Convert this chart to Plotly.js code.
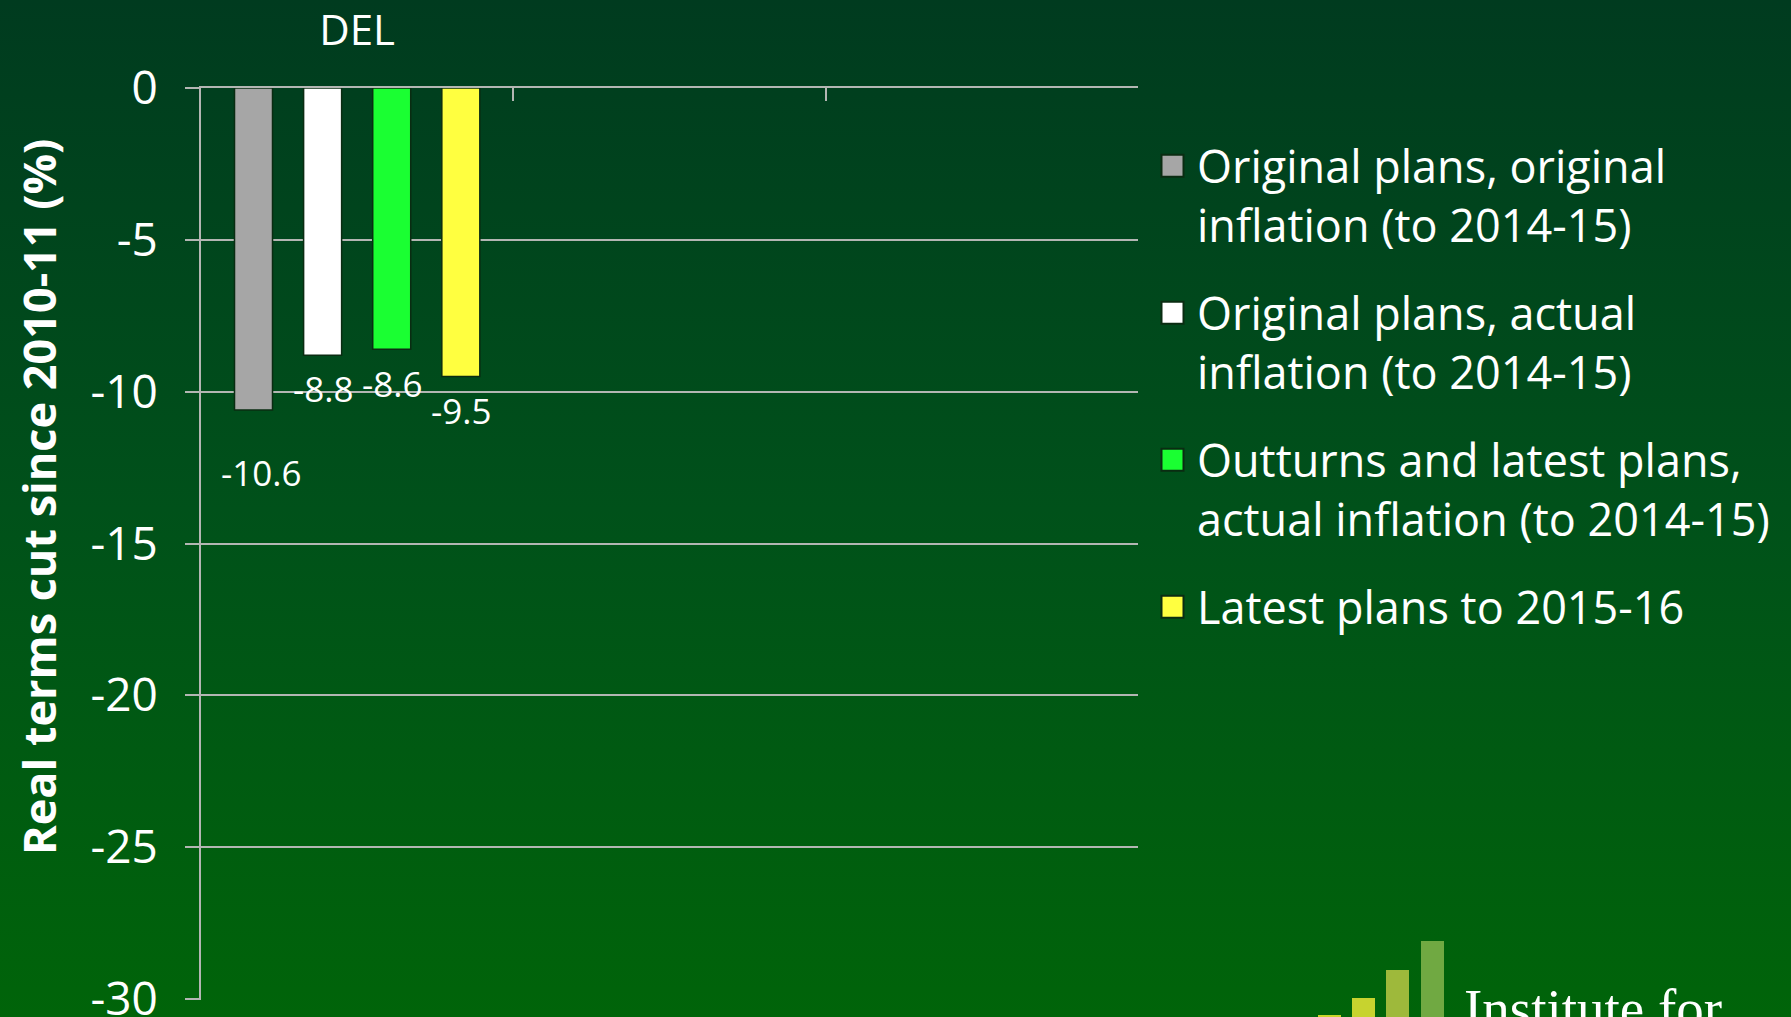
<!DOCTYPE html>
<html><head><meta charset="utf-8">
<script src="https://cdn.plot.ly/plotly-3.0.1.min.js"></script>
<style>
html,body{margin:0;padding:0;}
body{background:linear-gradient(to bottom,#003b1f 0%,#00511a 50%,#006409 100%);width:1791px;height:1017px;overflow:hidden;}
#chart{width:1791px;height:1017px;}
</style></head><body><div id="chart"></div>
<script>
// ---- data ----
const categories = ['DEL', ' ', '  '];
const seriesNames = [
  'Original plans, original<br>inflation (to 2014-15)',
  'Original plans, actual<br>inflation (to 2014-15)',
  'Outturns and latest plans,<br>actual inflation (to 2014-15)',
  'Latest plans to 2015-16'
];
const delValues = [-10.6, -8.8, -8.6, -9.5];
const yTickValues = [0, -5, -10, -15, -20, -25, -30];
const yTickLabels = ['0', '-5', '-10', '-15', '-20', '-25', '-30'];
const yTitleText = 'Real terms cut since 2010-11 (%)';
const logoText = 'Institute for';

// ---- styles ----
const seriesColors = ['#a6a6a6', '#ffffff', '#1aff32', '#ffff40'];
const labelDy = [63, 33, 34, 34];
const labelDx = [8, 0, 0, 0];
const logoBarColors = ['#c9d52b', '#c7d32f', '#9eb93b', '#70a942'];
const logoBarX = [1318, 1352, 1386, 1421];
const logoBarTop = [1015, 998, 970, 941];
const logoBarW = 23;

const W = 1791, H = 1017;
const M = {l: 201, r: 653, t: 88, b: 17};
const PW = W - M.l - M.r, PH = H - M.t - M.b;
const BARGAP = 0.115, GROUPGAP = 0.45;
const gridCol = '#b3b6b3';
const FONT = 'Open Sans, Noto Sans, sans-serif';
const LEGEND_FS = 45;

const px2x = v => (v - M.l) / PW;
const py2y = v => (H - M.b - v) / PH;

const traces = delValues.map((v, i) => ({
  type: 'bar',
  x: [categories[0]],
  y: [v],
  name: seriesNames[i],
  legendgroup: 'g' + i,
  marker: {color: seriesColors[i], line: {color: '#0a2c12', width: 1.5}},
  hoverinfo: 'name+y'
}));

const catPx = PW / categories.length;
const slotPx = catPx * (1 - BARGAP) / delValues.length;

const annotations = delValues.map((v, i) => ({
  x: categories[0], y: v, xref: 'x', yref: 'y',
  text: v.toFixed(1), showarrow: false,
  xanchor: 'center', yanchor: 'middle',
  xshift: (i - (delValues.length - 1) / 2) * slotPx + labelDx[i],
  yshift: -labelDy[i],
  font: {family: FONT, size: 35, color: '#ffffff'}
}));

annotations.push({
  xref: 'paper', yref: 'paper', x: px2x(38), y: py2y(497),
  text: yTitleText, textangle: -90, showarrow: false,
  xanchor: 'center', yanchor: 'middle',
  font: {family: FONT, size: 45, color: '#ffffff', weight: 'bold'}
});

annotations.push({
  xref: 'paper', yref: 'paper', x: px2x(1462), y: py2y(976),
  text: logoText, showarrow: false, xanchor: 'left', yanchor: 'top',
  font: {family: 'Liberation Serif, serif', size: 55, color: '#ffffff'}
});

const shapes = logoBarX.map((x0, i) => ({
  type: 'rect', xref: 'paper', yref: 'paper',
  x0: px2x(x0), x1: px2x(x0 + logoBarW), y0: py2y(1030), y1: py2y(logoBarTop[i]),
  fillcolor: logoBarColors[i], line: {width: 0}, layer: 'above'
}));

const layout = {
  width: W, height: H,
  margin: M,
  paper_bgcolor: 'rgba(0,0,0,0)', plot_bgcolor: 'rgba(0,0,0,0)',
  font: {family: FONT, color: '#ffffff'},
  barmode: 'group', bargap: BARGAP, bargroupgap: GROUPGAP,
  showlegend: true,
  legend: {
    x: px2x(1157), y: py2y(130), xanchor: 'left', yanchor: 'top',
    font: {family: FONT, size: LEGEND_FS, color: '#ffffff'},
    bgcolor: 'rgba(0,0,0,0)', tracegroupgap: 27
  },
  xaxis: {
    type: 'category', categoryorder: 'array', categoryarray: categories,
    range: [-0.5, categories.length - 0.5], side: 'top',
    showline: true, linecolor: gridCol, linewidth: 2,
    ticks: 'inside', tickson: 'boundaries', ticklen: 13, tickwidth: 2, tickcolor: gridCol,
    showgrid: false, zeroline: false,
    tickfont: {family: FONT, size: 42, color: '#ffffff'},
    ticklabelstandoff: 24, fixedrange: true
  },
  yaxis: {
    range: [-30.03, 0], tickvals: yTickValues, ticktext: yTickLabels,
    ticks: 'outside', ticklen: 14, tickwidth: 2, tickcolor: gridCol,
    showgrid: true, gridcolor: gridCol, gridwidth: 2,
    showline: true, linecolor: gridCol, linewidth: 2, zeroline: false,
    tickfont: {family: FONT, size: 46, color: '#ffffff'},
    ticklabelstandoff: 18, ticklabeloverflow: 'allow', fixedrange: true
  },
  annotations: annotations,
  shapes: shapes
};

Plotly.newPlot('chart', traces, layout, {displayModeBar: false, staticPlot: true}).then(gd => {
  // 22px legend swatches aligned with the first text line, as in the reference
  const lineH = LEGEND_FS * 1.3;
  gd.querySelectorAll('.legend .traces').forEach((g, i) => {
    const nLines = (seriesNames[i] || '').split('<br>').length;
    const dy = -(nLines - 1) * lineH / 2;
    const dx = -4.5;
    g.querySelectorAll('.legendpoints path').forEach(p => {
      p.setAttribute('d', `M${11 + dx},${11 + dy}H${-11 + dx}V${-11 + dy}H${11 + dx}Z`);
      p.style.strokeWidth = '2px';
    });
  });
});
</script></body></html>
